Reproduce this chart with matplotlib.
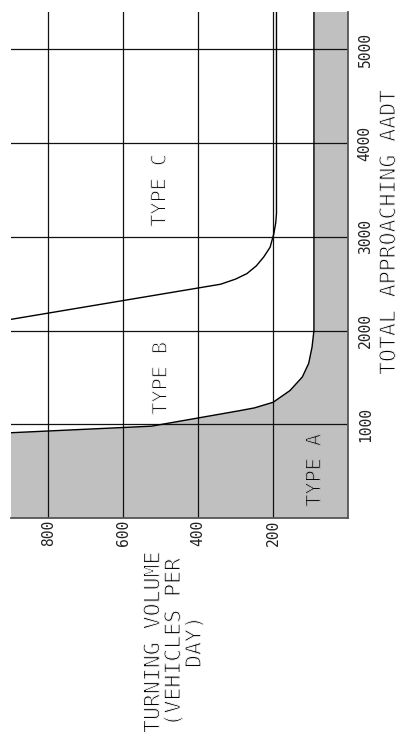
import matplotlib
matplotlib.use("Agg")
import matplotlib.pyplot as plt
import matplotlib.patheffects as pe

# Turning volume (vehicles/day) vs total approaching AADT boundaries
# Boundary between TYPE A and TYPE B (turning volume, AADT)
ab_volume = [900, 525, 290, 250, 200, 155, 122, 105, 96, 91, 91]
ab_aadt = [910, 980, 1145, 1175, 1235, 1360, 1505, 1650, 1825, 2000, 5400]

# Boundary between TYPE B and TYPE C
bc_volume = [900, 340, 300, 270, 245, 225, 208, 198, 193, 191, 191]
bc_aadt = [2120, 2495, 2550, 2608, 2690, 2786, 2890, 3035, 3150, 3250, 5400]

volume_ticks = [200, 400, 600, 800]
aadt_ticks = [1000, 2000, 3000, 4000, 5000]
volume_range = (900, 0)
aadt_range = (0, 5400)

region_labels = ["TYPE A", "TYPE B", "TYPE C"]
region_volume = [89, 499, 502]
region_aadt = [509, 1491, 3497]

MONO = "DejaVu Sans Mono"
GRAY = "#c0c0c0"


def thin(bg, lw=0.75):
    # erode glyph outlines slightly for a light, plotter-style stroke
    return [pe.Normal(), pe.Stroke(linewidth=lw, foreground=bg)]


fig = plt.figure(figsize=(3.98, 7.42), dpi=100)
ax = fig.add_axes([11 / 398, 224 / 742, 337 / 398, 506 / 742])

# Shaded TYPE A region: below the A/B boundary down to zero volume
poly_x = ab_volume + [0, 0, volume_range[0]]
poly_y = ab_aadt + [aadt_range[1], 0, 0]
ax.fill(poly_x, poly_y, color=GRAY, lw=0, zorder=0.2)

ax.plot(ab_volume, ab_aadt, color="black", lw=1.0, zorder=2)
ax.plot(bc_volume, bc_aadt, color="black", lw=1.0, zorder=2)

ax.set_xlim(*volume_range)
ax.set_ylim(*aadt_range)
ax.set_xticks(volume_ticks)
ax.set_yticks(aadt_ticks)
ax.grid(True, color="#111111", lw=0.9)

ax.yaxis.tick_right()
ax.tick_params(axis="both", length=0)
ax.tick_params(axis="x", pad=1)
ax.tick_params(axis="y", pad=7)
for lab in ax.get_xticklabels() + ax.get_yticklabels():
    lab.set_rotation(90)
    lab.set_fontfamily(MONO)
    lab.set_fontsize(10.5)
    lab.set_color("#222222")
for lab in ax.get_yticklabels():
    lab.set_va("center")

for side in ("top", "left"):
    ax.spines[side].set_visible(False)
for side in ("right", "bottom"):
    ax.spines[side].set_color("#555555")
    ax.spines[side].set_linewidth(1.3)

for text, vx, vy in zip(region_labels, region_volume, region_aadt):
    bg = GRAY if text.endswith("A") else "white"
    ax.text(vx, vy, text, rotation=90, ha="center", va="center",
            fontfamily=MONO, fontsize=14.5, zorder=3, path_effects=thin(bg))

fig.text(389 / 398, 1 - 232 / 742, "TOTAL APPROACHING AADT", rotation=90,
         ha="center", va="center", fontfamily=MONO, fontsize=15.5,
         path_effects=thin("white"))
fig.text(174 / 398, 1 - 642 / 742, "TURNING VOLUME\n(VEHICLES PER\nDAY)",
         rotation=90, ha="center", va="center", multialignment="center",
         linespacing=1.05, fontfamily=MONO, fontsize=15.5,
         path_effects=thin("white"))

fig.savefig("out.png", dpi=100)
